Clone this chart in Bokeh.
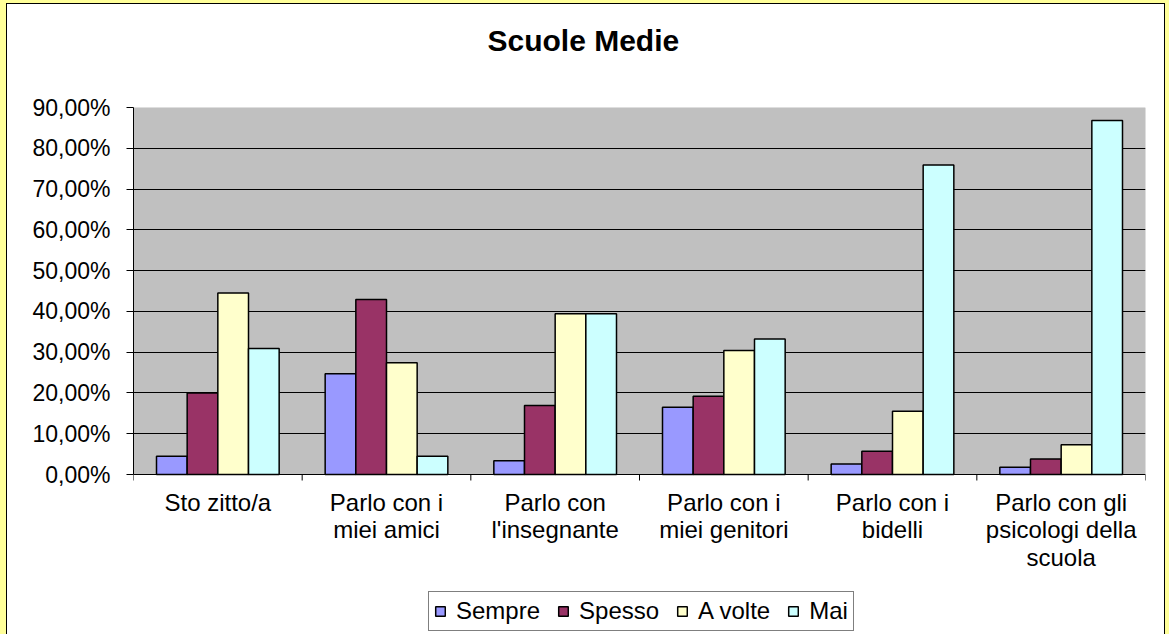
from math import pi
from bokeh.plotting import figure
from bokeh.models import (ColumnDataSource, FixedTicker, CustomJSTickFormatter,
                          Legend, LegendItem, Range1d, Title, BoxAnnotation)
from bokeh.core.properties import value
from bokeh.transform import dodge
from bokeh.embed import file_html
from bokeh.resources import INLINE

title = "Scuole Medie"
categories = ["Sto zitto/a", "Parlo con i\nmiei amici", "Parlo con\nl'insegnante",
              "Parlo con i\nmiei genitori", "Parlo con i\nbidelli",
              "Parlo con gli\npsicologi della\nscuola"]
series = ["Sempre", "Spesso", "A volte", "Mai"]
sempre = [4.5, 24.7, 3.4, 16.5, 2.6, 1.8]
spesso = [20.0, 42.9, 16.9, 19.2, 5.7, 3.8]
a_volte = [44.5, 27.4, 39.4, 30.4, 15.5, 7.3]
mai = [30.9, 4.5, 39.4, 33.2, 75.9, 86.8]
y_ticks = [0, 10, 20, 30, 40, 50, 60, 70, 80, 90]
colors = ["#9999FF", "#993366", "#FFFFCC", "#CCFFFF"]

FONT = "Liberation Sans"
n = len(categories)
y_max = y_ticks[-1]
centers = [i + 0.5 for i in range(n)]
boundaries = list(range(n + 1))
src = ColumnDataSource(dict(x=centers, Sempre=sempre, Spesso=spesso,
                            A_volte=a_volte, Mai=mai, label=categories,
                            base=[0] * n))
cols = ["Sempre", "Spesso", "A_volte", "Mai"]

# plot area is 367 px tall for 0..90 ; extra 160 px below hold labels + legend
PLOT_H = 367
EXTRA_H = 160
y_min = -EXTRA_H * y_max / PLOT_H

p = figure(frame_width=1012, frame_height=PLOT_H + EXTRA_H,
           x_range=Range1d(0, n), y_range=Range1d(y_min, y_max),
           x_axis_location=None,
           output_backend="svg", toolbar_location=None,
           min_border_left=126, min_border_right=19, min_border_top=103,
           min_border_bottom=0)
p.styles = {"margin-left": "7px", "margin-top": "4px",
            "outline": "1px solid black", "box-shadow": "0 0 0 12px #FFFF99"}
p.background_fill_color = "white"
p.border_fill_color = "white"
p.outline_line_color = None

# gray plot area
p.add_layout(BoxAnnotation(left=0, right=n, bottom=0, top=y_max,
                           fill_color="#C0C0C0", fill_alpha=1,
                           line_color="#808080", line_width=1, level="image"))

# main title (outermost in the top panel)
p.title.text = title
p.title.align = "left"
p.title.offset = 354
p.title.text_font = FONT
p.title.text_font_size = "30px"
p.title.text_font_style = "bold"
p.title.text_color = "black"
p.title.standoff = 10
p.add_layout(Title(text=" ", text_font_size="10px", standoff=33), "above")

bw = 1 / 5.5
items = []
for k, (c, name) in enumerate(zip(cols, series)):
    r = p.vbar(x=dodge("x", (k - 1.5) * bw, range=p.x_range), top=c, width=bw,
               source=src, fill_color=colors[k], line_color="black", line_width=1.5)
    items.append(LegendItem(label=name, renderers=[r]))

p.xgrid.visible = False
p.ygrid.ticker = FixedTicker(ticks=y_ticks)
p.ygrid.grid_line_color = "black"
p.ygrid.grid_line_width = 1

ya = p.yaxis[0]
ya.ticker = FixedTicker(ticks=y_ticks)
ya.bounds = (0, y_max)
ya.formatter = CustomJSTickFormatter(code="return tick.toFixed(2).replace('.', ',') + '%';")
ya.major_tick_in = 0
ya.major_tick_out = 7
ya.minor_tick_line_color = None
ya.axis_line_color = "black"
ya.major_tick_line_color = "black"
ya.major_label_text_font = FONT
ya.major_label_text_font_size = "23px"
ya.major_label_text_color = "black"
ya.major_label_standoff = 16

# category axis: ticks between categories and labels under each group
p.ray(x=boundaries, y=[0] * len(boundaries), length=6, length_units="screen",
      angle=-pi / 2, line_color="black", line_width=1)
p.text(x="x", y="base", text="label", source=src, text_align="center",
       text_baseline="top", y_offset=14, text_font=value(FONT),
       text_font_size="24px", text_line_height=1.02, text_color="black")

legend = Legend(items=items, orientation="horizontal", location=(295, 3))
legend.label_text_font = FONT
legend.label_text_font_size = "24px"
legend.label_text_color = "black"
legend.glyph_width = 12
legend.glyph_height = 12
legend.label_standoff = 10
legend.spacing = 17
legend.padding = 5
legend.margin = 0
legend.border_line_color = "black"
legend.border_line_width = 1
legend.background_fill_color = "white"
legend.background_fill_alpha = 1
p.add_layout(legend)

open("out.html", "w").write(file_html(p, INLINE))
